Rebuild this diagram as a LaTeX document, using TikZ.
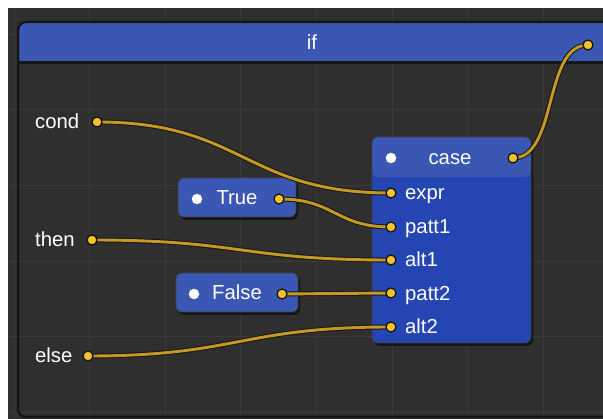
\documentclass[tikz,border=0pt]{standalone}
\usepackage{fontspec}
\setmainfont{Liberation Sans}
\usetikzlibrary{shadows}

\definecolor{canvas}{HTML}{2F2F2F}
\definecolor{gridline}{HTML}{3A3A3A}
\definecolor{headblue}{HTML}{3A58B3}
\definecolor{bodyblue}{HTML}{2546B2}
\definecolor{portfill}{HTML}{F2C12E}
\definecolor{wire}{HTML}{C49A24}
\definecolor{edge}{HTML}{161616}

\pgfdeclarelayer{backdrop}
\pgfdeclarelayer{wires}
\pgfdeclarelayer{front}
\pgfsetlayers{backdrop,main,wires,front}

\tikzset{
  lbl/.style={text=white, font=\fontsize{20.3}{23}\selectfont, inner sep=0pt},
  port/.style={circle, fill=portfill, draw=edge, line width=1.3pt,
               minimum size=10pt, inner sep=0pt},
  dotmark/.style={circle, fill=white, minimum size=10.5pt, inner sep=0pt},
  wirestyle/.style={draw=edge, line width=1pt, double=wire, double distance=2.9pt},
  nodebox/.style={rounded corners=6pt, draw=black!75, line width=0.8pt,
                  drop shadow={shadow xshift=2pt, shadow yshift=-3pt, opacity=0.55, fill=black}},
  litbox/.style={nodebox, fill=headblue, minimum height=39pt, text=white,
                 font=\fontsize{20.3}{23}\selectfont},
}

\begin{document}
\begin{tikzpicture}[x=1pt,y=-1pt]
\useasboundingbox (0,0) rectangle (603,419);

% canvas, grid and the enclosing "if" frame
\begin{pgfonlayer}{backdrop}
  \fill[white] (0,0) rectangle (603,419);
  \fill[canvas] (8,8) rectangle (603,419);
  \begin{scope}
    \clip (8,8) rectangle (603,419);
    \foreach \gx in {14,89.6,...,600} \draw[gridline, line width=1pt] (\gx,8) -- (\gx,419);
    \foreach \gy in {34.4,110,...,419} \draw[gridline, line width=1pt] (8,\gy) -- (603,\gy);
  \end{scope}
  \begin{scope}
    \clip[rounded corners=8pt] (18,22) rectangle (640,417);
    \fill[headblue] (18,22) rectangle (640,62);
    \draw[edge, line width=3pt] (18,62.5) -- (640,62.5);
  \end{scope}
  \draw[edge, line width=2.5pt, rounded corners=8pt] (18,22) rectangle (640,417);
\end{pgfonlayer}

\node[lbl, anchor=base] (iftitle) at (312,49.5) {if};

% inputs of the frame
\node[lbl, anchor=base west] (condlbl) at (35,129) {cond};
\node[lbl, anchor=base west] (thenlbl) at (35,247) {then};
\node[lbl, anchor=base west] (elselbl) at (35,363) {else};

% literal nodes
\node[litbox, minimum width=118pt] (truebox) at (237,197.5) {True};
\node[dotmark] (truedot) at (197,199) {};
\node[litbox, minimum width=122pt] (falsebox) at (237,292.5) {False};
\node[dotmark] (falsedot) at (194,294) {};

% case node
\node[nodebox, fill=bodyblue, minimum width=159pt, minimum height=206pt,
      path picture={\fill[headblue] (path picture bounding box.north west)
        rectangle ([yshift=-40pt]path picture bounding box.north east);}]
      (case) at (451.5,240) {};
\node[dotmark] (casedot) at (391,158) {};
\node[lbl, anchor=base] (casetitle) at (450,165) {case};
\node[lbl, anchor=base west] (exprlbl)  at (405,200) {expr};
\node[lbl, anchor=base west] (patt1lbl) at (405,234) {patt1};
\node[lbl, anchor=base west] (alt1lbl)  at (405,267) {alt1};
\node[lbl, anchor=base west] (patt2lbl) at (405,301) {patt2};
\node[lbl, anchor=base west] (alt2lbl)  at (405,334) {alt2};

% ports
\begin{pgfonlayer}{front}
  \node[port] (ifout)   at (588,45) {};
  \node[port] (condp)   at (97,122) {};
  \node[port] (thenp)   at (92,240) {};
  \node[port] (elsep)   at (88,356) {};
  \node[port] (trueout) at (279,199) {};
  \node[port] (falseout) at (282,294) {};
  \node[port] (caseout) at (513,158) {};
  \node[port] (exprp)   at (391,193) {};
  \node[port] (patt1p)  at (391,227) {};
  \node[port] (alt1p)   at (391,260) {};
  \node[port] (patt2p)  at (391,293) {};
  \node[port] (alt2p)   at (391,327) {};
\end{pgfonlayer}

% wires
\begin{pgfonlayer}{wires}
  \draw[wirestyle] (condp.center) .. controls +(147,0) and +(-147,0) .. (exprp.center);
  \draw[wirestyle] (trueout.center) .. controls +(56,0) and +(-56,0) .. (patt1p.center);
  \draw[wirestyle] (thenp.center) .. controls +(150,0) and +(-150,0) .. (alt1p.center);
  \draw[wirestyle] (falseout.center) .. controls +(55,0) and +(-55,0) .. (patt2p.center);
  \draw[wirestyle] (elsep.center) .. controls +(150,0) and +(-150,0) .. (alt2p.center);
  \draw[wirestyle] (caseout.center) .. controls +(45,0) and +(-45,0) .. (ifout.center);
\end{pgfonlayer}
\end{tikzpicture}
\end{document}
